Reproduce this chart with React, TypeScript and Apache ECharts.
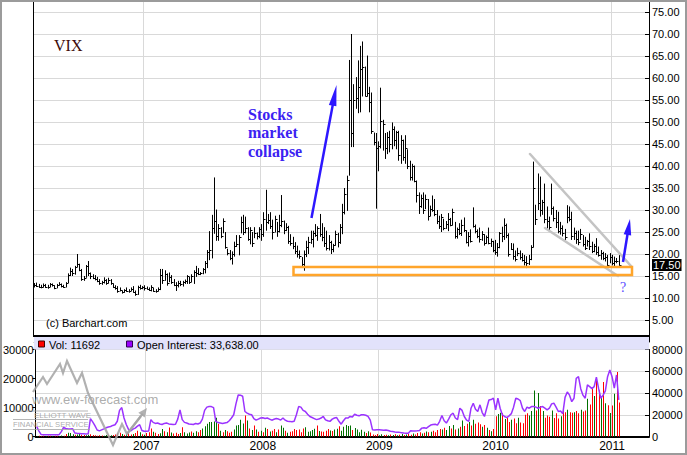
import React, { useEffect, useRef } from 'react';
import * as echarts from 'echarts';

const SANS = '"Liberation Sans", Arial, sans-serif';
const SERIF = '"Liberation Serif", "Times New Roman", serif';
const GRID_COLOR = '#d9d9d9';

// weekly categories (week ending Saturday)
const FIRST_WEEK = Date.UTC(2006, 0, 28);
const WEEK_COUNT = 274;
const categories: string[] = Array.from({ length: WEEK_COUNT }, (_, i) =>
  new Date(FIRST_WEEK + i * 7 * 86400000).toISOString().slice(0, 10)
);

const high = [
  13.4, 13.5, 13.2, 13.0, 13.3, 13.2, 13.0, 13.4, 13.3, 12.9,
  13.2, 13.6, 13.3, 13.0, 13.6, 15.6, 16.9, 16.6, 17.3, 20.0,
  17.8, 16.6, 15.0, 17.5, 18.4, 15.8, 15.4, 15.2, 14.8, 14.3,
  13.9, 14.7, 14.3, 14.6, 14.3, 13.3, 12.9, 12.7, 12.4, 11.7,
  12.0, 12.4, 12.0, 12.4, 12.7, 11.7, 12.8, 13.0, 12.7, 12.9,
  12.6, 12.4, 12.9, 12.3, 12.0, 12.4, 16.6, 16.6, 16.3, 15.6,
  15.8, 15.2, 14.3, 13.6, 13.9, 13.9, 13.9, 14.2, 15.2, 14.8,
  15.4, 16.3, 17.3, 16.8, 15.9, 16.8, 18.4, 20.9, 25.2, 28.9,
  37.4, 30.1, 26.8, 26.1, 28.1, 25.0, 21.2, 20.9, 20.6, 22.8,
  24.3, 24.3, 28.5, 28.9, 28.5, 26.1, 26.1, 25.0, 26.1, 24.9,
  26.1, 26.8, 29.5, 34.6, 29.1, 29.5, 27.8, 28.7, 27.3, 28.9,
  33.4, 27.6, 27.0, 26.4, 24.5, 23.9, 22.7, 21.9, 20.8, 19.3,
  20.8, 23.0, 23.9, 25.3, 25.3, 26.8, 26.3, 29.1, 27.0, 26.1,
  25.3, 24.3, 23.0, 22.3, 25.3, 24.8, 26.8, 31.4, 35.0, 37.8,
  64.1, 70.0, 58.6, 60.2, 64.0, 67.3, 68.3, 62.6, 65.1, 58.0,
  56.7, 47.6, 47.5, 45.6, 57.8, 50.5, 47.5, 47.7, 48.0, 49.9,
  49.0, 48.0, 48.0, 47.0, 46.0, 47.0, 43.8, 41.2, 40.5, 40.1,
  36.7, 34.0, 33.5, 34.0, 33.5, 32.5, 31.0, 33.3, 32.5, 30.0,
  28.7, 29.1, 28.0, 27.5, 29.3, 28.2, 30.3, 27.3, 26.0, 27.0,
  27.8, 28.3, 25.4, 25.0, 25.6, 30.6, 26.7, 25.6, 26.0, 25.2,
  24.5, 24.2, 26.0, 23.5, 23.0, 23.2, 22.5, 25.0, 26.2, 28.1,
  26.9, 24.7, 22.5, 22.4, 20.8, 21.4, 20.8, 20.2, 19.8, 19.5,
  19.8, 22.0, 41.0, 31.2, 38.3, 37.6, 32.3, 36.0, 30.8, 28.5,
  36.0, 30.8, 30.0, 29.6, 27.3, 26.5, 25.7, 31.1, 30.8, 29.6,
  26.0, 25.3, 25.3, 25.7, 24.3, 23.9, 23.2, 24.7, 22.8, 22.3,
  23.6, 21.7, 20.9, 20.5, 20.2, 19.8, 20.2, 19.8, 19.4, 19.1,
  19.8,
];

const low = [
  12.4, 12.5, 12.3, 12.2, 12.4, 12.3, 12.1, 12.5, 12.6, 12.0,
  12.2, 12.8, 12.4, 12.3, 12.4, 13.4, 15.0, 15.0, 15.3, 17.0,
  16.1, 13.9, 13.9, 14.6, 15.0, 14.3, 14.3, 14.0, 13.6, 13.0,
  13.0, 13.3, 13.0, 13.3, 13.0, 12.3, 11.9, 11.2, 11.5, 11.0,
  11.2, 11.4, 11.2, 11.6, 11.2, 10.5, 10.7, 11.9, 12.0, 11.7,
  11.9, 11.6, 11.5, 11.4, 11.2, 11.5, 11.8, 13.2, 13.9, 12.8,
  13.6, 13.2, 12.7, 11.6, 12.4, 12.7, 12.6, 13.2, 13.2, 13.2,
  13.6, 13.2, 14.8, 15.2, 15.2, 15.4, 15.6, 16.8, 18.6, 19.0,
  24.6, 23.0, 23.0, 23.6, 24.7, 21.2, 19.7, 18.6, 17.6, 19.4,
  21.6, 19.7, 24.7, 24.3, 24.7, 23.0, 22.2, 21.6, 23.6, 23.3,
  23.6, 23.0, 23.9, 25.3, 26.8, 25.7, 23.3, 24.9, 23.9, 24.9,
  26.1, 24.5, 25.2, 22.3, 21.9, 21.1, 20.0, 19.2, 18.9, 17.0,
  16.2, 19.3, 20.0, 22.3, 21.5, 23.9, 23.0, 23.9, 22.9, 21.6,
  20.8, 20.8, 20.0, 20.4, 21.9, 21.5, 22.3, 24.5, 29.0, 29.8,
  37.8, 44.3, 44.3, 53.0, 52.0, 52.2, 55.8, 55.8, 55.8, 52.2,
  47.3, 44.7, 30.3, 38.8, 44.0, 43.5, 41.6, 42.7, 43.1, 43.8,
  44.5, 43.8, 41.2, 40.5, 41.2, 40.5, 39.3, 36.7, 36.7, 36.3,
  31.7, 29.1, 30.5, 29.1, 30.2, 27.6, 28.6, 29.6, 28.6, 26.8,
  25.7, 25.0, 25.4, 25.7, 25.2, 26.3, 26.5, 23.5, 23.5, 24.3,
  24.1, 25.0, 22.4, 21.7, 22.6, 26.0, 24.7, 23.6, 22.6, 23.0,
  21.9, 22.3, 22.2, 21.6, 20.4, 19.8, 19.4, 21.3, 22.7, 23.2,
  23.6, 19.4, 20.9, 18.7, 18.3, 19.5, 18.7, 18.3, 17.4, 16.8,
  17.5, 18.6, 21.5, 26.6, 30.0, 28.5, 28.9, 27.0, 25.8, 25.4,
  28.9, 27.4, 25.9, 24.7, 24.4, 24.0, 23.2, 27.0, 27.4, 23.2,
  23.2, 22.3, 22.0, 23.2, 21.7, 20.9, 21.7, 20.9, 20.2, 20.4,
  19.8, 19.4, 18.7, 18.6, 18.3, 16.8, 17.9, 17.4, 17.2, 17.9,
  17.3,
];

const close = [
  12.9, 12.8, 12.6, 12.5, 13.0, 12.6, 12.4, 13.1, 12.9, 12.3,
  12.9, 13.2, 12.8, 12.6, 13.4, 15.3, 16.2, 15.6, 17.0, 17.8,
  16.4, 14.3, 14.6, 17.2, 15.6, 15.0, 14.6, 14.4, 13.9, 13.4,
  13.6, 14.2, 13.5, 14.1, 13.4, 12.6, 12.2, 11.6, 11.9, 11.3,
  11.8, 11.7, 11.5, 12.1, 11.4, 10.9, 12.4, 12.3, 12.4, 12.2,
  12.1, 11.8, 12.6, 11.7, 11.6, 12.0, 15.2, 14.0, 15.5, 13.4,
  14.8, 13.6, 13.0, 12.9, 13.5, 13.2, 13.6, 13.8, 14.9, 13.7,
  15.0, 15.9, 15.6, 15.5, 15.7, 16.5, 18.0, 20.4, 21.0, 25.8,
  27.5, 24.2, 25.8, 24.0, 27.4, 21.6, 20.2, 19.2, 19.9, 21.9,
  22.3, 23.8, 27.2, 25.1, 26.0, 23.4, 25.5, 22.6, 24.8, 24.2,
  25.6, 24.6, 28.0, 27.3, 27.8, 26.4, 25.0, 27.9, 25.2, 26.5,
  27.6, 25.4, 26.2, 23.0, 22.6, 21.9, 20.6, 19.9, 19.6, 17.8,
  20.1, 21.6, 22.8, 23.4, 24.8, 24.4, 25.9, 24.6, 23.8, 22.4,
  21.3, 22.8, 21.1, 22.0, 24.6, 22.7, 26.2, 29.5, 33.6, 36.9,
  55.0, 47.5, 55.0, 55.5, 58.0, 62.0, 62.5, 56.0, 56.5, 54.5,
  48.0, 45.5, 44.0, 44.5, 50.3, 49.5, 44.0, 46.5, 45.0, 48.5,
  46.0, 47.8, 42.5, 46.0, 42.0, 44.0, 40.0, 37.5, 40.0, 36.6,
  33.5, 31.0, 32.8, 30.0, 32.5, 28.6, 30.3, 30.0, 29.0, 27.5,
  26.3, 28.5, 26.0, 26.9, 28.0, 26.7, 29.6, 24.0, 25.7, 24.8,
  26.5, 25.5, 22.8, 24.1, 23.0, 26.4, 25.2, 24.0, 23.4, 24.6,
  22.5, 23.8, 22.6, 22.9, 21.0, 20.5, 21.6, 24.8, 24.0, 26.5,
  24.3, 20.1, 21.2, 19.6, 18.9, 20.2, 19.3, 18.6, 18.2, 17.9,
  18.9, 21.7, 35.0, 28.0, 31.5, 30.0, 31.8, 28.0, 27.5, 26.1,
  30.5, 28.1, 27.2, 25.3, 25.8, 24.7, 23.9, 28.5, 27.9, 24.2,
  24.8, 23.5, 22.8, 24.6, 22.2, 21.4, 22.9, 21.8, 20.6, 21.9,
  20.4, 19.8, 20.2, 19.0, 19.4, 17.6, 19.4, 18.0, 18.5, 18.3,
  17.5,
];

const volume = [
  200, 300, 150, 250, 200, 300, 250, 200, 300, 250,
  200, 350, 300, 900, 1300, 1200, 800, 600, 700, 1000,
  600, 500, 400, 600, 800, 500, 400, 300, 400, 350,
  300, 500, 400, 450, 500, 700, 1000, 1300, 900, 600,
  800, 1100, 700, 900, 1200, 2000, 1500, 800, 600, 1200,
  1500, 2800, 1600, 1300, 900, 1100, 2600, 1800, 1500, 3100,
  1400, 1000, 1300, 900, 1200, 3200, 1500, 1000, 1400, 1700,
  1300, 1800, 1500, 2200, 2800, 3500, 4400, 5000, 5000, 5200,
  6500, 4400, 2000, 1500, 2200, 1800, 1300, 1600, 2400, 3800,
  4000, 5800, 4500, 7200, 5500, 2800, 2200, 3800, 2400, 1600,
  2000, 1500, 3000, 2600, 1700, 2000, 2600, 1500, 2400, 3800,
  3000, 2000, 1300, 1600, 1800, 2600, 2200, 2400, 1500, 2800,
  3200, 1600, 1800, 2200, 2700, 3800, 1900, 1700, 1600, 2000,
  2600, 2100, 1900, 2400, 2700, 3500, 2000, 3400, 4000, 3600,
  3800, 2200, 2900, 2400, 1500, 2300, 1600, 1200, 1800, 1400,
  700, 500, 900, 400, 800, 500, 600, 400, 700, 500,
  800, 400, 600, 900, 500, 700, 900, 600, 1000, 700,
  1200, 1500, 1000, 1300, 1700, 1500, 1600, 2000, 1500, 2200,
  2600, 2400, 3000, 2200, 3600, 2800, 4000, 2400, 2800, 3400,
  5500, 3600, 4400, 5000, 3800, 5800, 4400, 4800, 4200, 3400,
  4000, 3000, 2200, 1800, 2600, 7000, 7800, 8200, 8000, 6000,
  6400, 5000, 5800, 6200, 4600, 6500, 4800, 4600, 7500, 8000,
  7200, 8800, 15900, 9000, 15000, 10500, 8800, 6500, 7200, 6800,
  9000, 6400, 8000, 6200, 7000, 9000, 8400, 9200, 8400, 8200,
  8400, 8800, 8000, 9200, 8600, 9000, 13000, 11000, 16500, 14000,
  20500, 15900, 14000, 18800, 11500, 10800, 8100, 10700, 14700, 22200,
  11692,
];

const openInterest = [
  9200, 5000, 1800, 1600, 1600, 1700, 1600, 1600, 1700, 1600,
  1700, 4500, 8300, 7400, 7000, 6800, 7200, 3300, 3000, 2800,
  2600, 2500, 2400, 2500, 16400, 13500, 10000, 6000, 5200, 6100,
  7000, 8000, 8800, 9200, 10200, 10800, 14000, 24000, 26600, 17000,
  11000, 6500, 5200, 6800, 7700, 9500, 10800, 5500, 4800, 4900,
  5000, 15500, 13000, 12000, 12400, 11500, 11000, 12000, 12400, 11600,
  11300, 11000, 11300, 16000, 24500, 15500, 13000, 12400, 11500, 11300,
  11000, 12000, 11500, 12400, 16000, 24000, 27000, 27500, 27500, 26500,
  13900, 12800, 12400, 12000, 12400, 12800, 14500, 17000, 20000, 30000,
  38200, 38000, 37000, 23000, 21500, 20500, 20000, 16500, 15000, 16000,
  17000, 17200, 16500, 17000, 16000, 15000, 15800, 16500, 16000, 15200,
  17000, 15000, 14000, 13900, 13500, 14000, 20000, 27500, 27000, 24000,
  23000, 20500, 18400, 17500, 16500, 15500, 16000, 17000, 18400, 15300,
  14500, 13900, 16000, 17000, 17400, 14000, 11300, 14500, 17000, 17000,
  18400, 18000, 20500, 19500, 19000, 20000, 20000, 19500, 18500, 15000,
  6100, 6000, 6100, 6100, 6000, 5800, 5900, 5500, 4800, 4500,
  4200, 4000, 3800, 3500, 3200, 3100, 3000, 5200, 5000, 5100,
  5200, 5600, 7700, 8000, 7500, 9000, 10500, 11000, 11300, 10500,
  14000, 19300, 14500, 12400, 16000, 20000, 21400, 17000, 15500, 26000,
  24000, 18400, 15000, 14000, 26000, 30600, 25000, 23000, 29100, 22000,
  18400, 26000, 33600, 34000, 35200, 24500, 35200, 26000, 20000, 18400,
  17400, 19000, 21000, 27000, 35200, 34500, 33000, 26000, 23000, 27000,
  26000, 27500, 27500, 27000, 26000, 27000, 27500, 26000, 24500, 26000,
  30000, 30600, 27000, 23000, 23500, 21000, 36000, 41000, 38000, 32000,
  35200, 53500, 55000, 44000, 38000, 35200, 47400, 45900, 44000, 45900,
  54500, 44000, 35200, 38000, 42000, 55000, 61200, 55000, 44500, 56600,
  33638,
];

const isYearStart = (index: number) =>
  index > 0 && categories[index].slice(0, 4) !== categories[index - 1].slice(0, 4);

function arrow(x1: number, y1: number, x2: number, y2: number, headLen: number, headHalf: number, color: string, width: number, z: number, opacity = 1) {
  const dx = x2 - x1, dy = y2 - y1;
  const len = Math.hypot(dx, dy);
  const ux = dx / len, uy = dy / len;
  const bx = x2 - ux * headLen, by = y2 - uy * headLen;
  const px = -uy, py = ux;
  return [
    { type: 'line', silent: true, z, shape: { x1, y1, x2: bx + ux * 2, y2: by + uy * 2 }, style: { stroke: color, lineWidth: width, opacity } },
    { type: 'polygon', silent: true, z, shape: { points: [[x2, y2], [bx + px * headHalf, by + py * headHalf], [bx - px * headHalf, by - py * headHalf]] }, style: { fill: color, opacity } },
  ];
}

function txt(text: string, x: number, y: number, size: number, fill: string, family: string, opts: any = {}) {
  const align = opts.align || 'left';
  const valign = opts.valign || 'middle';
  return {
    type: 'text', silent: true, z: opts.z ?? 60, x, y,
    style: {
      text, fill, fontSize: size, fontFamily: family, fontWeight: opts.weight || 'normal',
      lineHeight: opts.lineHeight, opacity: opts.opacity ?? 1,
      align, verticalAlign: valign, textAlign: align, textVerticalAlign: valign,
    },
  };
}

export default function App() {
  const ref = useRef<HTMLDivElement>(null);

  useEffect(() => {
    if (!ref.current) return;
    const chart = echarts.init(ref.current, null, { renderer: 'svg' });

    const last = close.length - 1;
    const lastClose = close[last];
    const priceData = high.map((h, i) => [i, h, low[i], close[i]]);
    const volData = volume.map((v, i) => [i, v, i > 0 && close[i] < close[i - 1] ? 0 : 1]);

    const BLUE = '#2d17ff';
    const WM = '#a3a3a3';

    const graphics: any[] = [
      // outer frame
      { type: 'rect', silent: true, z: 200, shape: { x: 1, y: 1, width: 685, height: 453 }, style: { fill: 'none', stroke: '#9b9b9b', lineWidth: 2 } },
      // left border of price panel
      { type: 'line', silent: true, z: 100, shape: { x1: 33.5, y1: 1, x2: 33.5, y2: 337 }, style: { stroke: '#000', lineWidth: 1 } },
      // panel separator + legend band
      { type: 'rect', silent: true, z: 100, shape: { x: 33, y: 335, width: 617, height: 2 }, style: { fill: '#000' } },
      { type: 'rect', silent: true, z: 100, shape: { x: 34, y: 337, width: 615, height: 12.5 }, style: { fill: '#e2e2fb' } },
      { type: 'rect', silent: true, z: 101, shape: { x: 38.5, y: 341, width: 6, height: 6 }, style: { fill: '#ff0000', stroke: '#400000', lineWidth: 1 } },
      txt(`Vol: ${volume[last]}`, 49, 344.5, 11, '#000', SANS, { z: 101 }),
      { type: 'rect', silent: true, z: 101, shape: { x: 126.5, y: 341, width: 6, height: 6 }, style: { fill: '#9900ff', stroke: '#300050', lineWidth: 1 } },
      txt(`Open Interest: ${openInterest[last].toLocaleString('en-US', { minimumFractionDigits: 2, maximumFractionDigits: 2 })}`, 137, 344.5, 11, '#000', SANS, { z: 101 }),
      // labels
      txt('VIX', 54, 45.5, 16, '#3d0b0b', SERIF),
      txt('(c) Barchart.com', 46, 322.5, 11, '#000', SANS),
      txt('Stocks\nmarket\ncollapse', 248, 105, 16, '#3b22f2', SERIF, { weight: 'bold', lineHeight: 18.5, valign: 'top' }),
      txt('?', 623, 287, 14, '#5a4dff', SERIF, { align: 'center' }),
      // wedge lines
      { type: 'line', silent: true, z: 50, shape: { x1: 530, y1: 154, x2: 631, y2: 266 }, style: { stroke: '#c4c4c4', lineWidth: 2.5, lineCap: 'round' } },
      { type: 'line', silent: true, z: 50, shape: { x1: 545, y1: 228, x2: 618, y2: 276 }, style: { stroke: '#c4c4c4', lineWidth: 2.5, lineCap: 'round' } },
      // support box
      { type: 'rect', silent: true, z: 55, shape: { x: 293.5, y: 267, width: 338.5, height: 8 }, style: { fill: 'none', stroke: '#ffa52b', lineWidth: 2.5 } },
      // arrows
      ...arrow(311.5, 218, 336.5, 85, 21, 3.8, BLUE, 2.5, 60),
      ...arrow(623, 262, 630, 219, 16, 3.8, BLUE, 2.5, 60),
      // watermark
      { type: 'polyline', silent: true, z: 45, shape: { points: [[33, 392], [43, 377], [47, 384], [60, 364], [63, 373], [67, 361], [77, 383], [82, 373], [88, 393], [113, 445], [122, 424], [127, 434], [141, 416]] }, style: { stroke: WM, lineWidth: 2.2, fill: 'none', opacity: 0.85 } },
      ...arrow(127, 434, 147, 408, 9, 4, WM, 2.2, 45, 0.85),
      txt('www.ew-forecast.com', 32, 399, 13, WM, SANS, { z: 46, opacity: 0.9 }),
      { type: 'line', silent: true, z: 45, shape: { x1: 13, y1: 411, x2: 88, y2: 411 }, style: { stroke: WM, lineWidth: 1, opacity: 0.8 } },
      txt('ELLIOTT WAVE', 34, 415.5, 8, WM, SANS, { z: 46, opacity: 0.9 }),
      { type: 'line', silent: true, z: 45, shape: { x1: 13, y1: 419.5, x2: 88, y2: 419.5 }, style: { stroke: WM, lineWidth: 1, opacity: 0.8 } },
      txt('FINANCIAL SERVICE', 13, 424.5, 7.7, WM, SANS, { z: 46, opacity: 0.9 }),
      { type: 'line', silent: true, z: 45, shape: { x1: 13, y1: 429.5, x2: 90, y2: 429.5 }, style: { stroke: WM, lineWidth: 1, opacity: 0.8 } },
    ];

    const plain = (v: number) => String(v);

    const option: any = {
      animation: false,
      backgroundColor: '#fff',
      textStyle: { fontFamily: SANS },
      grid: [
        { left: 33, right: 38, top: 1, height: 341 },
        { left: 33, right: 38, top: 349.5, height: 87 },
      ],
      xAxis: [
        {
          type: 'category', gridIndex: 0, data: categories, boundaryGap: true,
          axisLine: { show: false }, axisTick: { show: false }, axisLabel: { show: false },
          splitLine: { show: true, interval: (i: number) => isYearStart(i), lineStyle: { color: GRID_COLOR } },
        },
        {
          type: 'category', gridIndex: 1, data: categories, boundaryGap: true,
          axisLine: { show: true, lineStyle: { color: '#000', width: 2 } },
          axisTick: { show: false },
          axisLabel: { show: true, interval: (i: number) => isYearStart(i), formatter: (v: string) => v.slice(0, 4), fontSize: 12, color: '#000', margin: 3, fontFamily: SANS },
          splitLine: { show: true, interval: (i: number) => isYearStart(i), lineStyle: { color: GRID_COLOR } },
        },
      ],
      yAxis: [
        {
          type: 'value', gridIndex: 0, position: 'right', min: 0, max: 77.5, interval: 5,
          axisLine: { show: true, lineStyle: { color: '#000' } },
          axisTick: { show: true, inside: true, length: 4, lineStyle: { color: '#000' } },
          axisLabel: { formatter: (v: number) => (v > 0 && v % 5 === 0 ? v.toFixed(2) : ''), fontSize: 11, color: '#000', margin: 3, fontFamily: SANS },
          splitLine: { show: true, lineStyle: { color: GRID_COLOR } },
        },
        {
          type: 'value', gridIndex: 1, position: 'left', min: 0, max: 30000, interval: 10000,
          axisLine: { show: true, lineStyle: { color: '#000' } },
          axisTick: { show: true, length: 3, lineStyle: { color: '#000' } },
          axisLabel: { formatter: plain, fontSize: 11, color: '#000', margin: 2, fontFamily: SANS },
          splitLine: { show: false },
        },
        {
          type: 'value', gridIndex: 1, position: 'right', min: 0, max: 80000, interval: 20000,
          axisLine: { show: true, lineStyle: { color: '#000' } },
          axisTick: { show: true, inside: true, length: 4, lineStyle: { color: '#000' } },
          axisLabel: { formatter: plain, fontSize: 11, color: '#000', margin: 3, fontFamily: SANS },
          splitLine: { show: true, lineStyle: { color: GRID_COLOR } },
        },
      ],
      series: [
        {
          type: 'custom', name: 'VIX', xAxisIndex: 0, yAxisIndex: 0, silent: true, z: 10,
          data: priceData,
          encode: { x: 0, y: [1, 2, 3] },
          renderItem: (params: any, api: any) => {
            const i = api.value(0);
            const hi = api.coord([i, api.value(1)]);
            const lo = api.coord([i, api.value(2)]);
            const cl = api.coord([i, api.value(3)]);
            const x = Math.round(hi[0]) + 0.5;
            const cy = Math.round(cl[1]) + 0.5;
            return {
              type: 'group',
              children: [
                { type: 'line', shape: { x1: x, y1: hi[1], x2: x, y2: lo[1] }, style: { stroke: '#000', lineWidth: 1 } },
                { type: 'line', shape: { x1: x, y1: cy, x2: x + 2, y2: cy }, style: { stroke: '#000', lineWidth: 1 } },
              ],
            };
          },
        },
        {
          type: 'line', name: 'Close', xAxisIndex: 0, yAxisIndex: 0, data: close,
          symbol: 'none', showSymbol: false, silent: true, z: 20,
          lineStyle: { width: 0, color: 'rgba(0,0,0,0)' },
          markLine: {
            silent: true, symbol: ['none', 'none'],
            lineStyle: { width: 0, color: 'rgba(0,0,0,0)', type: 'solid' },
            label: {
              show: true, position: 'end', distance: 3, formatter: () => lastClose.toFixed(2),
              color: '#fff', backgroundColor: '#000', padding: [1, 1, 0, 1], fontSize: 11, fontFamily: SANS,
            },
            data: [{ yAxis: lastClose }],
          },
        },
        {
          type: 'custom', name: 'Vol', xAxisIndex: 1, yAxisIndex: 1, silent: true, z: 5,
          data: volData,
          encode: { x: 0, y: 1 },
          renderItem: (params: any, api: any) => {
            const i = api.value(0);
            const top = api.coord([i, api.value(1)]);
            const base = api.coord([i, 0]);
            return {
              type: 'rect',
              shape: { x: Math.round(top[0]), y: top[1], width: 1, height: base[1] - top[1] },
              style: { fill: api.value(2) === 1 ? '#007000' : '#ff0000' },
            };
          },
        },
        {
          type: 'line', name: 'Open Interest', xAxisIndex: 1, yAxisIndex: 2, data: openInterest,
          symbol: 'none', showSymbol: false, silent: true, z: 8,
          lineStyle: { color: '#9b33ff', width: 1.5 },
        },
      ],
      graphic: graphics,
    };

    chart.setOption(option);
    return () => chart.dispose();
  }, []);

  return (
    <div
      ref={ref}
      style={{ position: 'absolute', left: 0, top: 0, width: 687, height: 455, background: '#fff' }}
    />
  );
}
